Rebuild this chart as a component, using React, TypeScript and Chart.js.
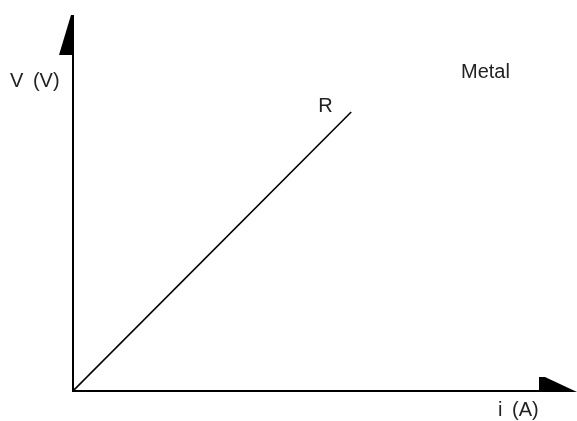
import React, { useEffect, useRef } from "react";
import { Chart, registerables } from "chart.js";

Chart.register(...registerables);

// Data (arbitrary units along each axis)
const currentValues = [0, 55.2]; // i (A)
const voltageValues = [0, 74.2]; // V (V)
const seriesLabel = "R";
const xAxisTitle = "i (A)";
const yAxisTitle = "V (V)";
const annotationText = "Metal";
const xRange = [0, 100];
const yRange = [0, 100];

const FONT = '20px "Liberation Sans", Arial, sans-serif';
const TEXT_COLOR = "#222";

const axesPlugin = {
  id: "axesArrows",
  afterDatasetsDraw(chart: any) {
    const { ctx, chartArea, scales } = chart;
    const x0 = scales.x.getPixelForValue(xRange[0]);
    const y0 = scales.y.getPixelForValue(yRange[0]);
    const top = chartArea.top;
    const right = chartArea.right;
    ctx.save();
    ctx.strokeStyle = "#000";
    ctx.fillStyle = "#000";
    ctx.lineWidth = 2;
    // vertical axis
    ctx.beginPath();
    ctx.moveTo(x0, y0 + 1);
    ctx.lineTo(x0, top + 20);
    ctx.stroke();
    // vertical arrow (half triangle on the left)
    ctx.beginPath();
    ctx.moveTo(x0 - 2, top);
    ctx.lineTo(x0 + 1, top);
    ctx.lineTo(x0 + 1, top + 40);
    ctx.lineTo(x0 - 14, top + 40);
    ctx.closePath();
    ctx.fill();
    // horizontal axis
    ctx.beginPath();
    ctx.moveTo(x0 - 1, y0);
    ctx.lineTo(right - 30, y0);
    ctx.stroke();
    // horizontal arrow (half triangle above)
    ctx.beginPath();
    ctx.moveTo(right - 38, y0 - 14);
    ctx.lineTo(right - 32, y0 - 14);
    ctx.lineTo(right, y0 + 1);
    ctx.lineTo(right - 38, y0 + 1);
    ctx.closePath();
    ctx.fill();

    // texts
    ctx.font = FONT;
    ctx.fillStyle = TEXT_COLOR;
    ctx.textAlign = "left";
    ctx.textBaseline = "alphabetic";
    ctx.wordSpacing = "4px";
    ctx.fillText(yAxisTitle, 10, 87);
    ctx.fillText(xAxisTitle, 498, 416);
    ctx.wordSpacing = "0px";
    ctx.fillText(annotationText, 461, 78);
    const n = currentValues.length - 1;
    const ex = scales.x.getPixelForValue(currentValues[n]);
    const ey = scales.y.getPixelForValue(voltageValues[n]);
    ctx.fillText(seriesLabel, ex - 33, ey);
    ctx.restore();
  },
};

export default function App() {
  const ref = useRef<HTMLCanvasElement | null>(null);
  useEffect(() => {
    document.body.style.margin = "0";
    const canvas = ref.current;
    if (!canvas) return;
    const chart = new Chart(canvas, {
      type: "scatter",
      data: {
        datasets: [
          {
            label: seriesLabel,
            data: currentValues.map((x, i) => ({ x, y: voltageValues[i] })),
            showLine: true,
            borderColor: "#000",
            borderWidth: 1.6,
            pointRadius: 0,
            fill: false,
          },
        ],
      },
      options: {
        animation: false,
        responsive: false,
        devicePixelRatio: 1,
        layout: { padding: { left: 73, top: 15, right: 0, bottom: 30 } },
        plugins: { legend: { display: false }, tooltip: { enabled: false } },
        scales: {
          x: { type: "linear", min: xRange[0], max: xRange[1], display: false },
          y: { type: "linear", min: yRange[0], max: yRange[1], display: false },
        },
      },
      plugins: [axesPlugin],
    });
    return () => chart.destroy();
  }, []);
  return (
    <div style={{ width: 577, height: 421, background: "#fff" }}>
      <canvas ref={ref} width={577} height={421} style={{ display: "block" }} />
    </div>
  );
}
